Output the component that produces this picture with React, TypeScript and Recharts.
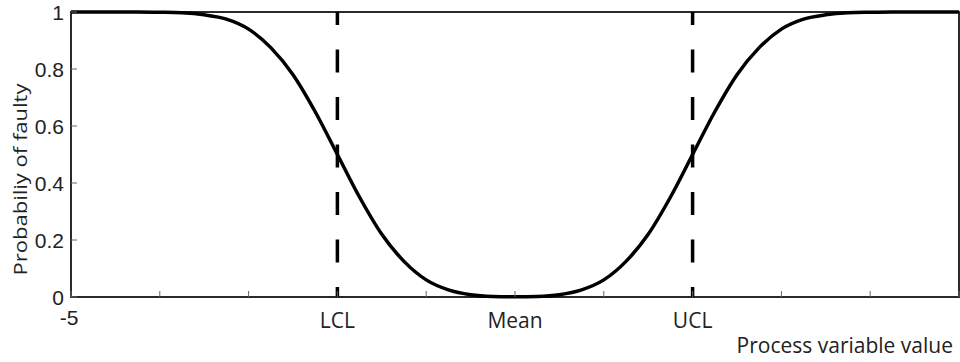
import React from 'react';
import { LineChart, Line, XAxis, YAxis, ReferenceLine, ReferenceArea, Label } from 'recharts';

// process variable value (x) and probability of faulty
const xValues = [
  -5, -4.75, -4.5, -4.25, -4, -3.75, -3.5, -3.25, -3, -2.75, -2.5, -2.25, -2, -1.75, -1.5, -1.25, -1, -0.75,
  -0.5, -0.25, 0, 0.25, 0.5, 0.75, 1, 1.25, 1.5, 1.75, 2, 2.25, 2.5, 2.75, 3, 3.25, 3.5, 3.75, 4, 4.25, 4.5,
  4.75, 5,
];
const probFaulty = [
  1, 1, 1, 1, 0.999, 0.997, 0.99, 0.975, 0.94, 0.875, 0.78, 0.65, 0.5, 0.35, 0.22, 0.125, 0.06, 0.025, 0.008,
  0.002, 0.001, 0.002, 0.008, 0.025, 0.06, 0.125, 0.22, 0.35, 0.5, 0.65, 0.78, 0.875, 0.94, 0.975, 0.99, 0.997,
  0.999, 1, 1, 1, 1,
];

const xTicks = [-5, -4, -3, -2, -1, 0, 1, 2, 3, 4, 5];
const xTickLabels = ['-5', '', '', 'LCL', '', 'Mean', '', 'UCL', '', '', ''];
const yTicks = [0, 0.2, 0.4, 0.6, 0.8, 1];
const yTickLabels = ['0', '0.2', '0.4', '0.6', '0.8', '1'];
const limitLines = [-2, 2];

const data = xValues.map((x, i) => ({ x, p: probFaulty[i] }));

const AXIS = '#2a2a2a';
const TICK = '#666';
const NUM_FONT = '"Liberation Sans", Arial, sans-serif';
const WORD_FONT = '"Open Sans", "Noto Sans", sans-serif';

const BottomTick = (props: any) => {
  const { x, y, index } = props;
  const label = xTickLabels[index] ?? '';
  const isNum = label === '-5';
  return (
    <g>
      <line x1={x} y1={y} x2={x} y2={y - 6} stroke={TICK} strokeWidth={1} />
      {label && (
        <text
          x={isNum ? x - 2 : x}
          y={isNum ? y + 28 : y + 31}
          textAnchor="middle"
          fontFamily={isNum ? NUM_FONT : WORD_FONT}
          fontSize={isNum ? 21 : 21}
          fill="#222"
        >
          {label}
        </text>
      )}
    </g>
  );
};

const TopTick = (props: any) => {
  const { x, y } = props;
  return <line x1={x} y1={y} x2={x} y2={y + 6} stroke={TICK} strokeWidth={1} />;
};

const LeftTick = (props: any) => {
  const { x, y, index } = props;
  return (
    <g>
      <line x1={x} y1={y} x2={x + 6} y2={y} stroke={TICK} strokeWidth={1} />
      <text x={x - 7} y={y + 7.5} textAnchor="end" fontFamily={NUM_FONT} fontSize={21} fill="#222">
        {yTickLabels[index]}
      </text>
    </g>
  );
};

const RightTick = (props: any) => {
  const { x, y } = props;
  return <line x1={x} y1={y} x2={x - 6} y2={y} stroke={TICK} strokeWidth={1} />;
};

export default function App() {
  return (
    <div style={{ position: 'fixed', left: 0, top: 0, width: 960, height: 362, background: '#fff' }}>
      <LineChart width={960} height={362} data={data} margin={{ top: 12, right: 1, bottom: 0, left: 0 }}>
        <XAxis
          xAxisId="bottom"
          dataKey="x"
          type="number"
          domain={[-5, 5]}
          ticks={xTicks}
          interval={0}
          height={65}
          tickSize={0}
          tickMargin={0}
          tickLine={false}
          axisLine={false}
          tick={<BottomTick />}
        >
          <Label
            content={(p: any) => {
              const vb = p.viewBox;
              return (
                <text
                  x={vb.x + vb.width - 6}
                  y={vb.y + 56}
                  textAnchor="end"
                  fontFamily={WORD_FONT}
                  fontSize={21}
                  fill="#222"
                >
                  Process variable value
                </text>
              );
            }}
          />
        </XAxis>
        <XAxis
          xAxisId="top"
          orientation="top"
          dataKey="x"
          type="number"
          domain={[-5, 5]}
          ticks={xTicks}
          interval={0}
          height={0}
          tickSize={0}
          tickMargin={0}
          tickLine={false}
          axisLine={false}
          tick={<TopTick />}
        />
        <YAxis
          yAxisId="left"
          type="number"
          domain={[0, 1]}
          ticks={yTicks}
          interval={0}
          width={71}
          tickSize={0}
          tickMargin={0}
          tickLine={false}
          axisLine={false}
          tick={<LeftTick />}
        >
          <Label
            content={(p: any) => {
              const vb = p.viewBox;
              const cx = vb.x + 27;
              const cy = vb.y + vb.height / 2 + 25;
              return (
                <text
                  x={cx}
                  y={cy}
                  transform={`rotate(-90 ${cx} ${cy})`}
                  textAnchor="middle"
                  fontFamily={WORD_FONT}
                  fontSize={19}
                  textLength={192}
                  lengthAdjust="spacingAndGlyphs"
                  fill="#222"
                >
                  Probabiliy of faulty
                </text>
              );
            }}
          />
        </YAxis>
        <YAxis
          yAxisId="right"
          orientation="right"
          type="number"
          domain={[0, 1]}
          ticks={yTicks}
          interval={0}
          width={0}
          tickSize={0}
          tickMargin={0}
          tickLine={false}
          axisLine={false}
          tick={<RightTick />}
        />
        <ReferenceArea
          xAxisId="bottom"
          yAxisId="left"
          x1={-5}
          x2={5}
          y1={0}
          y2={1}
          fill="none"
          fillOpacity={0}
          stroke={AXIS}
          strokeWidth={2}
          ifOverflow="visible"
        />
        {limitLines.map((v) => (
          <ReferenceLine
            key={v}
            xAxisId="bottom"
            yAxisId="left"
            x={v}
            stroke="#000"
            strokeWidth={3.5}
            strokeDasharray="23 24.5"
            strokeDashoffset={13}
          />
        ))}
        <Line
          xAxisId="bottom"
          yAxisId="left"
          dataKey="p"
          type="monotone"
          stroke="#000"
          strokeWidth={3.5}
          dot={false}
          isAnimationActive={false}
        />
      </LineChart>
    </div>
  );
}
